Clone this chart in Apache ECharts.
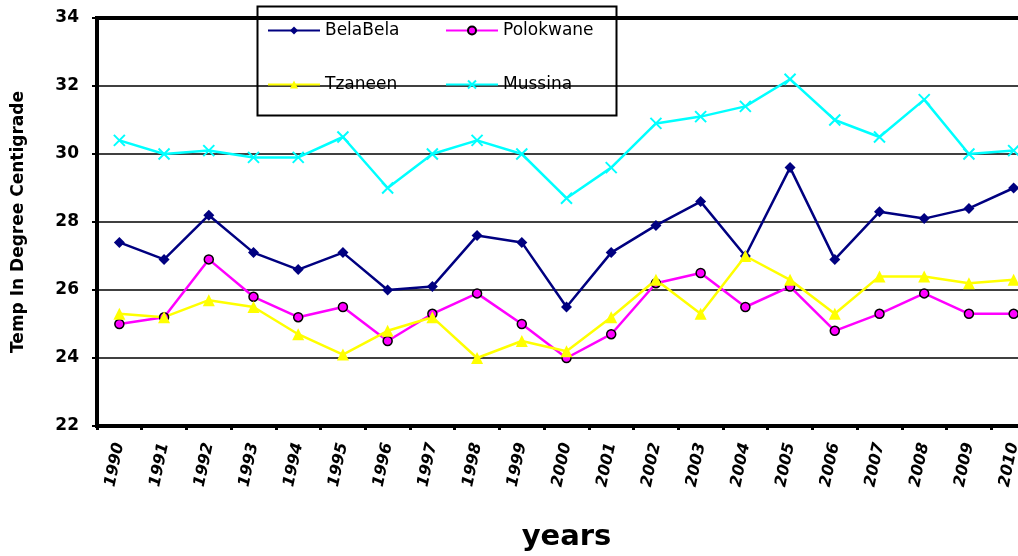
<!DOCTYPE html>
<html>
<head>
<meta charset="utf-8">
<script src="https://cdn.jsdelivr.net/npm/echarts@6/dist/echarts.min.js"></script>
<style>
  html, body { margin: 0; padding: 0; background: #fff; }
  #chart { width: 1018px; height: 556px; }
</style>
</head>
<body>
<div id="chart"></div>
<script>
// Annual mean maximum temperature (°C) for four Limpopo stations
const years = ['1990','1991','1992','1993','1994','1995','1996','1997','1998','1999','2000',
               '2001','2002','2003','2004','2005','2006','2007','2008','2009','2010'];
const belaBela  = [27.4, 26.9, 28.2, 27.1, 26.6, 27.1, 26.0, 26.1, 27.6, 27.4, 25.5,
                   27.1, 27.9, 28.6, 27.0, 29.6, 26.9, 28.3, 28.1, 28.4, 29.0];
const polokwane = [25.0, 25.2, 26.9, 25.8, 25.2, 25.5, 24.5, 25.3, 25.9, 25.0, 24.0,
                   24.7, 26.2, 26.5, 25.5, 26.1, 24.8, 25.3, 25.9, 25.3, 25.3];
const tzaneen   = [25.3, 25.2, 25.7, 25.5, 24.7, 24.1, 24.8, 25.2, 24.0, 24.5, 24.2,
                   25.2, 26.3, 25.3, 27.0, 26.3, 25.3, 26.4, 26.4, 26.2, 26.3];
const mussina   = [30.4, 30.0, 30.1, 29.9, 29.9, 30.5, 29.0, 30.0, 30.4, 30.0, 28.7,
                   29.6, 30.9, 31.1, 31.4, 32.2, 31.0, 30.5, 31.6, 30.0, 30.1];
const yTicks = { min: 22, max: 34, step: 2 };

const FONT = 'DejaVu Sans';
const crossPath = 'path://M0,0L10,10M10,0L0,10';

const chart = echarts.init(document.getElementById('chart'), null, { renderer: 'canvas' });

function legendAt(name, left, top) {
  return {
    data: [name], left: left, top: top, padding: 0,
    itemWidth: 52, itemHeight: 10, itemGap: 0,
    textStyle: { fontFamily: FONT, fontSize: 17, color: '#000' }
  };
}

chart.setOption({
  animation: false,
  backgroundColor: '#fff',
  grid: {
    left: 97, top: 18, width: 939, height: 408,
    outerBoundsMode: 'none',
    containLabel: false,
    show: true, borderColor: '#000', borderWidth: 4, backgroundColor: 'transparent'
  },
  legend: [
    legendAt('BelaBela', 267, 22),
    legendAt('Polokwane', 445, 22),
    legendAt('Tzaneen', 267, 76),
    legendAt('Mussina', 445, 76)
  ],
  graphic: [{
    type: 'rect', left: 255, top: 4, z: 100,
    shape: { width: 359, height: 109 },
    style: { fill: 'none', stroke: '#000', lineWidth: 2 }
  }],
  xAxis: {
    type: 'category',
    data: years,
    boundaryGap: true,
    name: 'years',
    nameLocation: 'middle',
    nameGap: 97,
    nameTextStyle: { fontFamily: FONT, fontSize: 29, fontWeight: 'bold', color: '#000' },
    axisLine: { lineStyle: { color: '#000', width: 4 } },
    axisTick: { show: true, length: 4, lineStyle: { color: '#000', width: 3 } },
    axisLabel: {
      rotate: 78, margin: 17, interval: 0,
      fontFamily: FONT, fontSize: 16, fontWeight: 'bold', fontStyle: 'italic', color: '#000'
    },
    splitLine: { show: false }
  },
  yAxis: {
    type: 'value',
    min: yTicks.min, max: yTicks.max, interval: yTicks.step,
    name: 'Temp In Degree Centigrade',
    nameLocation: 'middle',
    nameGap: 70,
    nameTextStyle: { fontFamily: FONT, fontSize: 17, fontWeight: 'bold', color: '#000' },
    axisLine: { show: true, lineStyle: { color: '#000', width: 4 } },
    axisTick: { show: true, length: 5, lineStyle: { color: '#000', width: 2 } },
    axisLabel: { margin: 18, fontFamily: FONT, fontSize: 17, fontWeight: 'bold', color: '#000' },
    splitLine: { show: true, lineStyle: { color: '#000', width: 1.5 } }
  },
  series: [
    {
      name: 'BelaBela', type: 'line', data: belaBela,
      symbol: 'diamond', symbolSize: 11,
      lineStyle: { color: '#000080', width: 2.5 },
      itemStyle: { color: '#000080' }
    },
    {
      name: 'Polokwane', type: 'line', data: polokwane,
      symbol: 'circle', symbolSize: 9,
      lineStyle: { color: '#FF00FF', width: 2.5 },
      itemStyle: { color: '#FF00FF', borderColor: '#000', borderWidth: 1.5 }
    },
    {
      name: 'Tzaneen', type: 'line', data: tzaneen,
      symbol: 'triangle', symbolSize: 12,
      lineStyle: { color: '#FFFF00', width: 2.5 },
      itemStyle: { color: '#FFFF00' }
    },
    {
      name: 'Mussina', type: 'line', data: mussina,
      symbol: crossPath, symbolSize: 11,
      lineStyle: { color: '#00FFFF', width: 2.5 },
      itemStyle: { color: '#00FFFF', borderColor: '#00FFFF', borderWidth: 2 }
    }
  ]
});
</script>
</body>
</html>
